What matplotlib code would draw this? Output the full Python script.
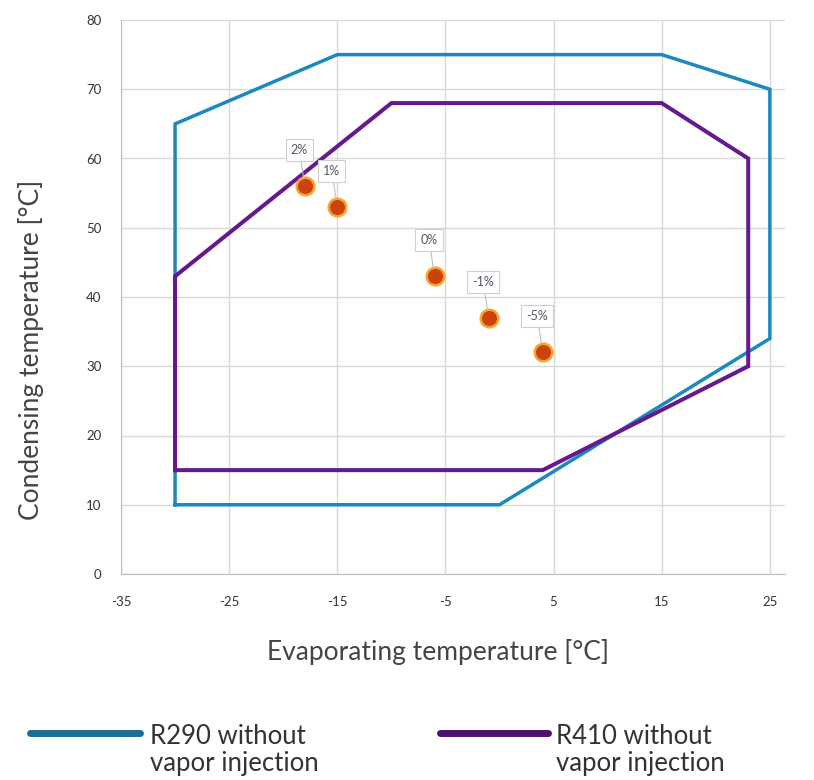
import matplotlib
matplotlib.use("Agg")
import matplotlib.pyplot as plt
from matplotlib.lines import Line2D

plt.rcParams['font.family'] = ['Lato', 'DejaVu Sans']
plt.rcParams['axes.unicode_minus'] = False

# operating envelopes (evaporating temp, condensing temp)
r290_x = [-30, -30, -15, 15, 25, 25, 0, -30]
r290_y = [10, 65, 75, 75, 70, 34, 10, 10]
r410_x = [-30, -30, -10, 15, 23, 23, 4, -30]
r410_y = [15, 43, 68, 68, 60, 30, 15, 15]

# test points with efficiency difference labels
pt_x = [-18, -15, -6, -1, 4]
pt_y = [56, 53, 43, 37, 32]
pt_labels = ['2%', '1%', '0%', '-1%', '-5%']

blue = '#1C88BE'
purple = '#65198F'

fig = plt.figure(figsize=(8.14, 7.8), dpi=100)
ax = fig.add_axes([121/814, 1 - 574/780, (785-121)/814, (574-20)/780])

ax.plot(r290_x, r290_y, color=blue, lw=2.5, zorder=3, solid_joinstyle='miter')
ax.plot(r410_x, r410_y, color=purple, lw=2.9, zorder=3, solid_joinstyle='miter')

ax.scatter(pt_x, pt_y, s=160, color='#C9430A', edgecolor='#F6A531', linewidth=1.8, zorder=5)

for x, y, lab in zip(pt_x, pt_y, pt_labels):
    ax.annotate(lab, xy=(x, y), xytext=(-4, 26), textcoords='offset points',
                ha='center', va='center', fontsize=9, color='#555566',
                bbox=dict(boxstyle='square,pad=0.4', fc='white', ec='#CFCFCF', lw=0.8),
                arrowprops=dict(arrowstyle='-', color='#BFBFBF', lw=0.8,
                                shrinkA=0, shrinkB=6),
                zorder=6)

ax.set_xlim(-35, 26.4)
ax.set_ylim(0, 80)
ax.set_xticks([-35, -25, -15, -5, 5, 15, 25])
ax.set_yticks(range(0, 81, 10))
ax.grid(True, color='#DADADA', lw=1.0, zorder=0)
ax.set_axisbelow(True)
for s in ['top', 'right']:
    ax.spines[s].set_visible(False)
for s in ['left', 'bottom']:
    ax.spines[s].set_color('#BDBDBD')
ax.tick_params(length=0, labelsize=9.5, colors='#333333')
ax.tick_params(axis='x', pad=16)
ax.tick_params(axis='y', pad=14)

fig.text(438/814, 1 - 652/780, 'Evaporating temperature [°C]', ha='center', va='center',
         fontsize=19, color='#444444')
fig.text(31/814, 1 - 350/780, 'Condensing temperature [°C]', ha='center', va='center',
         rotation=90, fontsize=19, color='#444444')

# legend drawn below the chart
fig.add_artist(Line2D([30/814, 140/814], [1 - 733/780] * 2, color='#186E96', lw=5,
                      solid_capstyle='round'))
fig.add_artist(Line2D([440/814, 548/814], [1 - 733/780] * 2, color='#4C1070', lw=5,
                      solid_capstyle='round'))
fig.text(150/814, 1 - 750/780, 'R290 without\nvapor injection', ha='left', va='center',
         fontsize=18.5, color='#333333', linespacing=1.15)
fig.text(556/814, 1 - 750/780, 'R410 without\nvapor injection', ha='left', va='center',
         fontsize=18.5, color='#333333', linespacing=1.15)

fig.savefig('out.png', dpi=100, facecolor='white')
